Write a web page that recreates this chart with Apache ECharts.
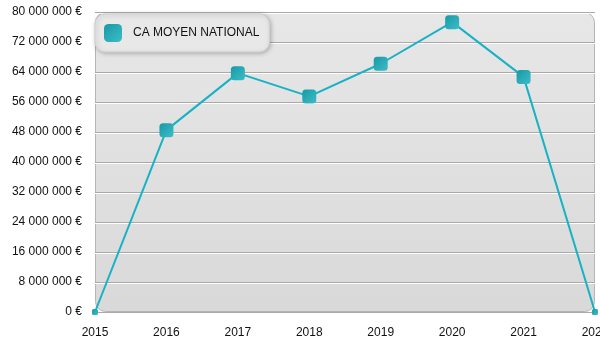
<!DOCTYPE html>
<html>
<head>
<meta charset="utf-8">
<script src="https://cdn.jsdelivr.net/npm/echarts@6/dist/echarts.min.js"></script>
<style>
  html, body { margin: 0; padding: 0; background: #ffffff; }
  #chart { width: 600px; height: 350px; }
</style>
</head>
<body>
<div id="chart"></div>
<script>
// Chiffre d'affaires moyen national par année
const years = ['2015', '2016', '2017', '2018', '2019', '2020', '2021', '2022'];
const caMoyen = [0, 48500000, 63700000, 57500000, 66200000, 77300000, 62700000, 0];
const seriesName = 'CA MOYEN NATIONAL';

const chart = echarts.init(document.getElementById('chart'));

const gridBox = { left: 95, right: 5, top: 12, bottom: 38 };
const W = 600, H = 350;
const plotW = W - gridBox.left - gridBox.right;
const plotH = H - gridBox.top - gridBox.bottom;

const markerFill = new echarts.graphic.LinearGradient(0, 0, 1, 1, [
  { offset: 0, color: '#179aa6' },
  { offset: 1, color: '#3dbcc7' }
]);

function formatEuro(v) {
  return String(Math.round(v)).replace(/\B(?=(\d{3})+(?!\d))/g, ' ') + ' €';
}

const font = 'Liberation Sans, Arial, sans-serif';

chart.setOption({
  animation: false,
  backgroundColor: '#ffffff',
  graphic: [
    {
      type: 'rect',
      z: -10,
      silent: true,
      shape: { x: gridBox.left + 0.5, y: gridBox.top + 0.5, width: plotW - 1, height: plotH - 1, r: 10 },
      style: {
        fill: new echarts.graphic.LinearGradient(0, 0, 0, 1, [
          { offset: 0, color: '#e7e7e7' },
          { offset: 1, color: '#d9d9d9' }
        ]),
        stroke: '#b5b5b5',
        lineWidth: 1
      }
    }
  ],
  grid: {
    left: gridBox.left, right: gridBox.right, top: gridBox.top, bottom: gridBox.bottom,
    containLabel: false,
    outerBoundsMode: 'none'
  },
  legend: {
    left: gridBox.left,
    top: gridBox.top + 2,
    padding: [10, 10, 10, 9],
    backgroundColor: '#e8e8e8',
    borderColor: '#cfcfcf',
    borderWidth: 1,
    borderRadius: 10,
    shadowColor: 'rgba(0,0,0,0.25)',
    shadowBlur: 4,
    shadowOffsetX: 1,
    shadowOffsetY: 1,
    icon: 'roundRect',
    itemWidth: 18,
    itemHeight: 18,
    itemGap: 10,
    textStyle: { fontFamily: font, fontSize: 12, color: '#111111', padding: [0, 0, 0, 6] },
    data: [{ name: seriesName, itemStyle: { color: markerFill } }]
  },
  xAxis: {
    type: 'category',
    boundaryGap: false,
    data: years,
    axisLine: { show: false },
    axisTick: { show: false },
    axisLabel: { fontFamily: font, fontSize: 12, color: '#111111', margin: 15, hideOverlap: false },
    splitLine: { show: false }
  },
  yAxis: {
    type: 'value',
    min: 0,
    max: 80000000,
    interval: 8000000,
    axisLine: { show: false },
    axisTick: { show: false },
    axisLabel: { fontFamily: font, fontSize: 12, color: '#111111', margin: 13, formatter: formatEuro },
    splitLine: {
      show: true,
      lineStyle: {
        color: '#a9a9a9',
        width: 1,
        shadowColor: '#ffffff',
        shadowBlur: 0,
        shadowOffsetY: 1
      }
    }
  },
  series: [
    {
      name: seriesName,
      type: 'line',
      data: caMoyen.map((v, i) => (i === 0 || i === caMoyen.length - 1)
        ? { value: v, symbolSize: 6 }
        : v),
      symbol: 'roundRect',
      symbolSize: 14,
      showAllSymbol: true,
      lineStyle: { color: '#17b2c4', width: 2 },
      itemStyle: { color: markerFill, borderWidth: 0 },
      clip: true
    }
  ]
});
</script>
</body>
</html>
